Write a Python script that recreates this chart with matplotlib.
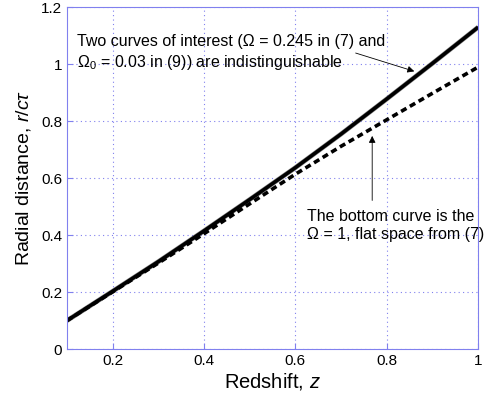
import matplotlib
matplotlib.use("Agg")
import matplotlib.pyplot as plt

plt.rcParams['font.family'] = ['Liberation Sans', 'DejaVu Sans']
plt.rcParams['mathtext.fontset'] = 'custom'
plt.rcParams['mathtext.rm'] = 'Liberation Sans'
plt.rcParams['mathtext.it'] = 'Liberation Sans:italic'

z = [0.1, 0.2, 0.3, 0.4, 0.5, 0.6, 0.7, 0.8, 0.9, 1.0]
r_open = [0.1, 0.203, 0.307, 0.415, 0.525, 0.637, 0.755, 0.878, 1.003, 1.13]
r_flat = [0.1, 0.201, 0.302, 0.405, 0.51, 0.614, 0.712, 0.805, 0.898, 0.99]

xticks = [0.2, 0.4, 0.6, 0.8, 1]
yticks = [0, 0.2, 0.4, 0.6, 0.8, 1, 1.2]
xtick_labels = ['0.2', '0.4', '0.6', '0.8', '1']
ytick_labels = ['0', '0.2', '0.4', '0.6', '0.8', '1', '1.2']

blue = '#8080ee'
fig = plt.figure(figsize=(4.85, 3.99), dpi=100)
ax = fig.add_axes([0.138, 0.125, 0.848, 0.857])

ax.plot(z, r_open, color='#888888', lw=3.4, solid_capstyle='butt')
ax.plot(z, r_open, color='black', lw=2.6, solid_capstyle='butt')
ax.plot(z, r_flat, color='black', lw=2.6, ls=(0, (1.7, 1.1)))

ax.set_xlim(0.1, 1)
ax.set_ylim(0, 1.2)
ax.set_xticks(xticks)
ax.set_xticklabels(xtick_labels)
ax.set_yticks(yticks)
ax.set_yticklabels(ytick_labels)
ax.tick_params(direction='in', colors=blue, labelcolor='black', labelsize=11, length=4, width=0.8)
ax.grid(True, color=blue, ls=(0, (1, 3)), lw=0.8)
for s in ax.spines.values():
    s.set_color(blue)
    s.set_linewidth(0.8)

ax.set_xlabel('Redshift, $\\mathit{z}$', fontsize=14.5, labelpad=2)
ax.set_ylabel('Radial distance, $\\mathit{r/c\\tau}$', fontsize=14, labelpad=6)

ax.text(0.122, 1.105, 'Two curves of interest (Ω = 0.245 in (7) and\nΩ$_0$ = 0.03 in (9)) are indistinguishable',
        fontsize=11.5, va='top', ha='left', linespacing=1.25)
ax.annotate('', xy=(0.866, 0.972), xytext=(0.726, 1.042),
            arrowprops=dict(arrowstyle='-|>', color='black', lw=0.6, mutation_scale=10))
ax.text(0.625, 0.49, 'The bottom curve is the\nΩ = 1, flat space from (7)',
        fontsize=11.5, va='top', ha='left', linespacing=1.25)
ax.annotate('', xy=(0.768, 0.758), xytext=(0.768, 0.512),
            arrowprops=dict(arrowstyle='-|>', color='black', lw=0.6, mutation_scale=10))

fig.savefig('out.png', dpi=100)
